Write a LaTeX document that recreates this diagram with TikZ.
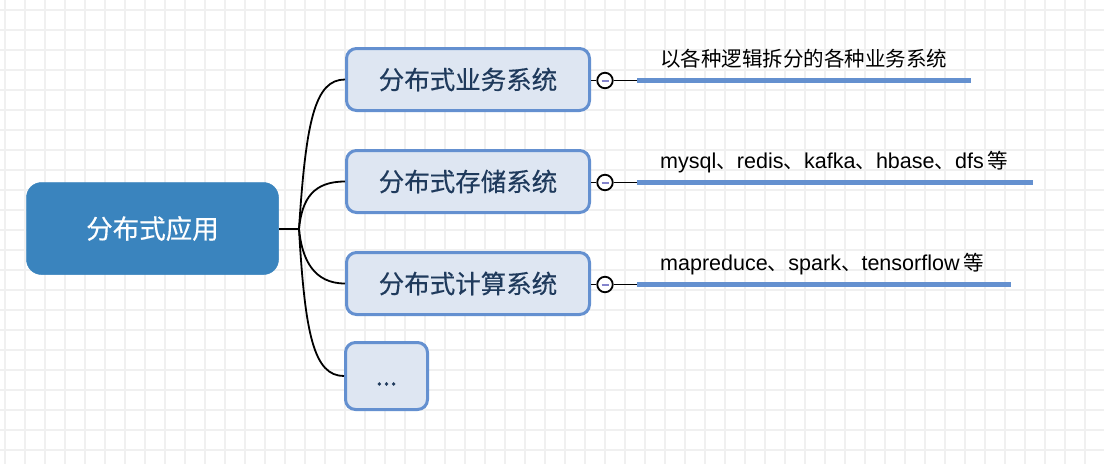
\documentclass[tikz,border=0pt]{standalone}
\usepackage{fontspec}
\setmainfont{Noto Sans CJK SC}
\newfontfamily\boxfont[FakeBold=0.4]{Noto Sans CJK SC}
\newfontfamily\lat[Scale=1.05]{Liberation Sans}
\definecolor{gridc}{HTML}{F0F0F0}
\definecolor{rootfill}{HTML}{3A84BE}
\definecolor{kidfill}{HTML}{DEE6F2}
\definecolor{kidline}{HTML}{6490D0}
\definecolor{kidtext}{HTML}{1F3A5C}
\definecolor{barc}{HTML}{6490CF}
\definecolor{dashc}{HTML}{8484CC}
\begin{document}
\begin{tikzpicture}[x=1pt,y=-1pt,
  rootbox/.style={draw=rootfill, fill=rootfill, rounded corners=15, line width=0.5,
    minimum width=252, minimum height=92, inner sep=0, text=white,
    font=\boxfont\fontsize{26.5}{30}\selectfont},
  kidbox/.style={draw=kidline, fill=kidfill, rounded corners=10, line width=3,
    minimum width=243, minimum height=62, inner sep=0, text=kidtext,
    font=\boxfont\fontsize{25.5}{30}\selectfont},
  edge/.style={draw=black, line width=1.8},
  knob/.style={circle, draw=black, fill=white, line width=1.8, minimum size=15.5, inner sep=0},
  bar/.style={draw=barc, line width=5},
  lbl/.style={anchor=base west, inner sep=0, text=black, font=\fontsize{20.5}{24}\selectfont}
]
\useasboundingbox (0,0) rectangle (1104,464);
\fill[white] (0,0) rectangle (1104,464);
\foreach \gx in {5,25,...,1105} \draw[gridc, line width=1.5] (\gx,0) -- (\gx,464);
\foreach \gy in {10,30,...,450} \draw[gridc, line width=1.5] (0,\gy) -- (1104,\gy);

\node[rootbox] (root) at (152.5,228.5) {分布式应用};
\node[kidbox] (k1) at (468,79.5) {分布式业务系统};
\node[kidbox] (k2) at (468,181.5) {分布式存储系统};
\node[kidbox] (k3) at (468,283.5) {分布式计算系统};
\node[kidbox, minimum width=82, minimum height=67] (k4) at (386.5,376) {\vphantom{分}...};

\coordinate (J) at (299,229);
\draw[edge] (root.east |- J) -- (J);
\draw[edge] (J) .. controls (306,120) and (315,79.5) .. (k1.west);
\draw[edge] (J) .. controls (302,198) and (314,181.5) .. (k2.west);
\draw[edge] (J) .. controls (302,260) and (314,283.5) .. (k3.west);
\draw[edge] (J) .. controls (305,335) and (314,376) .. (k4.west);

\foreach \i/\yy/\xe in {1/80.5/971, 2/182.5/1033, 3/284.5/1011} {
  \node[knob] (o\i) at (605,\yy) {};
  \coordinate (bs\i) at (637,\yy);
  \coordinate (be\i) at (\xe,\yy);
  \draw[edge] (k\i.east |- o\i.west) -- (o\i.west);
  \draw[edge] (o\i.east) -- (bs\i);
  \draw[bar] (bs\i) -- (be\i);
  \draw[dashc, line width=2] ([xshift=-3.5]o\i.center) -- ([xshift=3.5]o\i.center);
}
\node[lbl] (t1) at (660,66) {以各种逻辑拆分的各种业务系统};
\node[lbl] (t2) at (660,168) {{\lat mysql}、{\lat redis}、{\lat kafka}、{\lat hbase}、{\lat dfs}\,等};
\node[lbl] (t3) at (660,270) {{\lat mapreduce}、{\lat spark}、{\lat tensorflow}\,等};
\end{tikzpicture}
\end{document}
